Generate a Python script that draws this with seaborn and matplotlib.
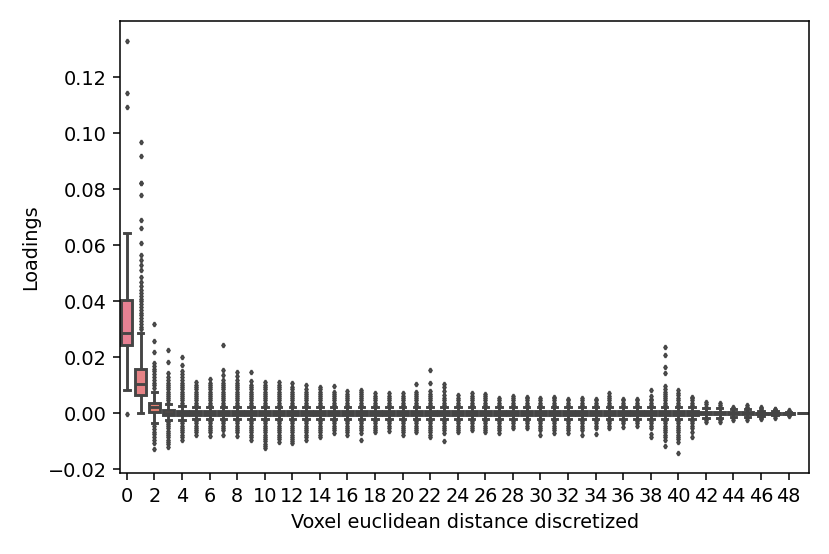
#!/usr/bin/env python
# coding: utf-8

"""
Boxplot of loadings against discretized voxel euclidean distance.
"""

import numpy as np
import pandas as pd
import matplotlib
matplotlib.use("Agg")
import matplotlib.pyplot as plt
import seaborn as sns

# distance bins (x categories)
categories = [str(i) for i in range(50)]

# box statistics per bin, in units of 1e-3
q1 = [24.3, 6.7, 0.6, -0.5, -0.5] + [-0.5] * 37 + \
     [-0.4, -0.4, -0.3, -0.3, -0.2, -0.2, -0.1, 0.0]
med = [28.6, 10.6, 2.2, 0.2, 0.1] + [0.0] * 37 + \
      [0.0, 0.0, 0.0, 0.0, 0.0, 0.0, 0.0, 0.0]
q3 = [40.5, 15.7, 3.8, 1.1, 0.8] + [0.7] * 37 + \
     [0.5, 0.5, 0.4, 0.4, 0.3, 0.2, 0.1, 0.0]
whis_lo = [8.2, 0.0, -3.4, -2.5, -2.3] + [-2.1] * 37 + \
          [-1.7, -1.6, -1.3, -1.3, -0.9, -0.7, -0.4, 0.0]
whis_hi = [64.4, 28.6, 7.7, 3.4, 2.6] + [2.4] * 37 + \
          [1.8, 1.8, 1.4, 1.4, 1.0, 0.8, 0.4, 0.0]

# outliers, units of 1e-3
outliers_hi = [
    [109.4, 114.4, 133.0],
    [30, 31, 32, 33, 34, 35, 36, 37, 38, 39, 40, 41, 42, 43, 44, 45.5, 47,
     48.8, 51.2, 53, 54.8, 56.5, 60.7, 66.3, 69, 78.1, 82.1, 82.4, 91.8,
     96.8],
    [9, 10, 11, 12, 13, 14, 15, 16, 17, 18, 22, 25.8, 31.8],
    [3.8, 4.6, 5.4, 6.2, 7, 7.8, 8.6, 9.4, 10.2, 11, 12, 13, 14.3, 18.2, 22.6],
    [3, 3.8, 4.6, 5.4, 6.2, 7, 7.8, 8.6, 9.4, 10.2, 11, 12, 13, 14, 15, 17.2,
     20.2],
    [3, 3.8, 4.6, 5.4, 6.2, 7, 7.8, 8.6, 9.4, 10.2, 11.3],
    [3, 3.8, 4.6, 5.4, 6.2, 7, 7.8, 8.6, 9.4, 10.2, 11, 12.2],
    [3, 3.8, 4.6, 5.4, 6.2, 7, 7.8, 8.6, 9.4, 10.2, 10.7, 11.9, 13.7, 15.5,
     24.4],
    [3, 3.8, 4.6, 5.4, 6.2, 7, 7.8, 8.6, 9.4, 10.2, 11, 12, 13.2, 14.9],
    [3, 3.8, 4.6, 5.4, 6.2, 7, 7.8, 8.6, 9.4, 10.2, 11.7, 14.9],
    [3, 3.8, 4.6, 5.4, 6.2, 7, 7.8, 8.6, 9.4, 10.2, 11.3],
    [3, 3.8, 4.6, 5.4, 6.2, 7, 7.8, 8.6, 9.4, 10.2, 11.3],
    [3, 3.8, 4.6, 5.4, 6.2, 7, 7.8, 8.6, 9.4, 11],
    [3, 3.8, 4.6, 5.4, 6.2, 7, 7.8, 8.6, 10.1],
    [3, 3.8, 4.6, 5.4, 6.2, 7, 7.8, 8.6, 9.3],
    [3, 3.8, 4.6, 5.4, 6.2, 7, 7.8, 9.7],
    [3, 3.8, 4.6, 5.4, 6.2, 7, 8],
    [3, 3.8, 4.6, 5.4, 6.2, 7, 7.8, 8.5],
    [3, 3.8, 4.6, 5.4, 6.2, 7.1],
    [3, 3.8, 4.6, 5.4, 6.2, 7.1],
    [3, 3.8, 4.6, 5.4, 6.2, 7.1],
    [3, 3.8, 4.6, 5.4, 6.2, 7, 7.7, 10.5],
    [3, 3.8, 4.6, 5.4, 6.2, 7, 8.1, 10.7, 15.5],
    [3, 3.8, 4.6, 5.4, 6.5, 8, 9.5, 10.4],
    [3, 3.8, 4.6, 5.4, 6.6],
    [3, 3.8, 4.6, 5.4, 6.2, 7.1],
    [3, 3.8, 4.6, 5.4, 6.2, 6.9],
    [3, 3.8, 4.6, 5.6],
    [3, 3.8, 4.6, 5.4, 6.3],
    [3, 3.8, 4.6, 5.4, 6.0],
    [3, 3.8, 4.6, 5.6],
    [3, 3.8, 4.6, 5.4, 6.0],
    [3, 3.8, 4.6, 5.1],
    [3, 3.8, 4.6, 5.6],
    [3, 3.8, 4.6, 5.1],
    [3, 3.8, 4.6, 5.4, 6.2, 7.1],
    [3, 3.8, 4.6, 5.1],
    [3, 3.8, 4.6, 5.1],
    [3, 3.8, 4.6, 5.3, 6.1, 8.5],
    [3, 3.8, 4.6, 5.4, 6.2, 7, 7.8, 8.6, 9.8, 14.5, 16.6, 21.0, 23.8],
    [3, 3.8, 4.6, 5.4, 6.5, 7.1, 8.3],
    [3, 3.8, 4.6, 5.4, 5.9],
    [2.4, 3.2, 4.1],
    [2.4, 3.0, 3.6],
    [1.9, 2.4],
    [1.9, 2.4, 2.9],
    [1.4, 1.8, 2.2],
    [1.1, 1.4, 1.7],
    [0.7, 1.1],
    [],
]

outliers_lo = [
    [-0.4],
    [],
    [-4.5, -5.5, -6.5, -7.5, -8.5, -9.5, -10.6, -12.8],
    [-3, -3.8, -4.6, -5.4, -6.2, -7, -7.8, -8.6, -9.4, -10.2, -11, -12],
    [-2.8, -3.6, -4.4, -5.2, -6, -6.8, -7.6, -8.4, -9.5],
    [-2.8, -3.6, -4.4, -5.2, -6, -6.8, -7.8],
    [-2.8, -3.6, -4.4, -5.2, -6, -6.8, -8.1],
    [-2.8, -3.6, -4.4, -5.2, -6, -7.7],
    [-2.8, -3.6, -4.4, -5.2, -6, -6.8, -8.1],
    [-2.8, -3.6, -4.4, -5.2, -6, -6.8, -7.6, -8.4, -9.5],
    [-2.8, -3.6, -4.4, -5.2, -6, -6.8, -7.6, -8.4, -9.2, -10, -10.8, -11.6,
     -12.5],
    [-2.8, -3.6, -4.4, -5.2, -6, -6.8, -7.6, -8.4, -9.2, -10.1],
    [-2.8, -3.6, -4.4, -5.2, -6, -6.8, -7.6, -8.4, -9.2, -10, -10.7],
    [-2.8, -3.6, -4.4, -5.2, -6, -6.8, -7.6, -8.4, -9.5],
    [-2.8, -3.6, -4.4, -5.2, -6, -6.8, -7.6, -8.3],
    [-2.8, -3.6, -4.4, -5.2, -6, -7.1],
    [-2.8, -3.6, -4.4, -5.2, -6, -6.8, -7.7],
    [-2.8, -3.6, -4.4, -5.2, -6, -7.1, -9.5],
    [-2.8, -3.6, -4.4, -5.2, -6, -6.5],
    [-2.8, -3.6, -4.4, -5.2, -6.2],
    [-2.8, -3.6, -4.4, -5.2, -6, -6.8, -7.7],
    [-2.8, -3.6, -4.4, -5.2, -6, -6.5],
    [-2.8, -3.6, -4.4, -5.2, -6, -6.8, -7.6, -8.3],
    [-2.8, -3.6, -4.4, -5.2, -6, -7, -9.8],
    [-2.8, -3.6, -4.4, -5.2, -6, -6.5],
    [-2.8, -3.6, -4.4, -5.2, -5.9],
    [-2.8, -3.6, -4.4, -5.2, -6, -6.5],
    [-2.8, -3.6, -4.4, -5.2, -6, -7.1],
    [-2.8, -3.6, -4.4, -5.3],
    [-2.8, -3.6, -4.4, -5.3],
    [-2.8, -3.6, -4.4, -5.2, -5.9, -7.7],
    [-2.8, -3.6, -4.4, -5.2, -6, -6.9],
    [-2.8, -3.6, -4.4, -5.2, -6, -7.1],
    [-2.8, -3.6, -4.4, -5.2, -5.9, -7.7],
    [-2.8, -3.6, -4.4, -5.3, -7.4],
    [-2.8, -3.6, -4.4, -5.3],
    [-2.8, -3.6, -4.7],
    [-2.8, -3.6, -4.5],
    [-2.8, -3.6, -4.4, -5.3, -7.4, -8.3],
    [-2.8, -3.6, -4.4, -5.2, -6, -6.8, -7.6, -8.4, -9.5, -11.7],
    [-2.8, -3.6, -4.4, -5.2, -6, -6.8, -7.6, -8.4, -9.2, -10.1, -14.3],
    [-2.8, -3.6, -4.4, -5.2, -6.5, -8.3],
    [-2.2, -3.0],
    [-2.2, -3.0],
    [-1.8, -2.4],
    [-1.8, -2.4],
    [-1.3, -1.7, -2.0],
    [-1.1, -1.5],
    [-0.6, -0.8],
    [],
]


def main():

    # long-form table: the five box values repeated so the quartiles hold
    # against the outliers, plus the outliers
    rows = []
    for i, cat in enumerate(categories):
        core = [whis_lo[i], q1[i], med[i], q3[i], whis_hi[i]] * 300
        vals = core + outliers_hi[i] + outliers_lo[i]
        for v in vals:
            rows.append((cat, v * 1e-3))
    df = pd.DataFrame(rows, columns=["dist", "loading"])

    fig = plt.figure(figsize=(6.0, 4.005), dpi=138.33)
    fig.subplots_adjust(left=0.1446, right=0.9751, bottom=0.1457, top=0.9626)
    ax = fig.add_subplot(111)

    sns.boxplot(data=df, x="dist", y="loading", hue="dist",
                order=categories, hue_order=categories,
                palette=sns.color_palette("husl", len(categories)),
                saturation=0.75, legend=False, width=0.8,
                linecolor=".27", linewidth=1.5, fliersize=1.6,
                flierprops={"marker": "d"}, ax=ax)

    ax.set_xlim(-0.5, 49.5)
    ax.set_ylim(-0.0214, 0.1402)
    ax.set_xticks(range(0, 50, 2))
    ax.set_xticklabels(categories[::2])
    ax.set_yticks(np.arange(-0.02, 0.121, 0.02))

    ax.set_xlabel("Voxel euclidean distance discretized")
    ax.set_ylabel("Loadings")

    fig.savefig("out.png", dpi=138.33)


if __name__ == "__main__":

    main()
